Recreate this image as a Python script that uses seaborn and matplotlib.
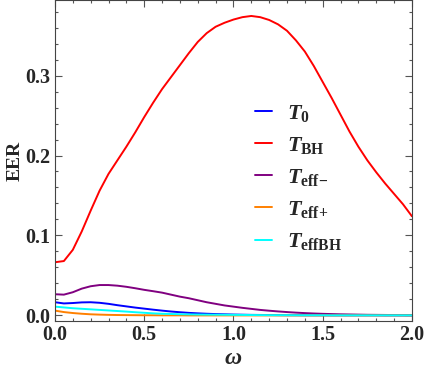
import numpy as np
import pandas as pd
import seaborn as sns
import matplotlib.pyplot as plt

# Valores (paso 0.05 en omega)
omega = [0.0, 0.05, 0.1, 0.15, 0.2, 0.25, 0.3, 0.35, 0.4, 0.45, 0.5, 0.55, 0.6, 0.65, 0.7,
         0.75, 0.8, 0.85, 0.9, 0.95, 1.0, 1.05, 1.1, 1.15, 1.2, 1.25, 1.3, 1.35, 1.4, 1.45,
         1.5, 1.55, 1.6, 1.65, 1.7, 1.75, 1.8, 1.85, 1.9, 1.95, 2.0]
eer_T0 = [0.0165, 0.015, 0.0155, 0.0163, 0.0165, 0.0158, 0.0145, 0.0128, 0.0113, 0.0098, 0.0085,
          0.0072, 0.006, 0.0049, 0.004, 0.0032, 0.0026, 0.0021, 0.0017, 0.0014, 0.0011, 0.0009,
          0.0007, 0.0006, 0.0005, 0.0004, 0.0003, 0.0003, 0.0002, 0.0002, 0.0002, 0.0001, 0.0001,
          0.0001, 0.0001, 0.0001, 0.0001, 0.0, 0.0, 0.0, 0.0]
eer_TBH = [0.0665, 0.068, 0.082, 0.105, 0.131, 0.156, 0.177, 0.194, 0.211, 0.229, 0.248, 0.266,
           0.283, 0.298, 0.313, 0.328, 0.342, 0.353, 0.361, 0.366, 0.37, 0.373, 0.3745, 0.373,
           0.3695, 0.364, 0.356, 0.344, 0.33, 0.312, 0.292, 0.272, 0.251, 0.23, 0.211, 0.194,
           0.179, 0.165, 0.152, 0.139, 0.124]
eer_Teff_m = [0.0265, 0.026, 0.029, 0.0335, 0.0365, 0.038, 0.038, 0.0372, 0.0358, 0.034, 0.032,
              0.0303, 0.0285, 0.026, 0.0235, 0.0215, 0.019, 0.0165, 0.0145, 0.0125, 0.011, 0.0095,
              0.0082, 0.0069, 0.0059, 0.005, 0.0042, 0.0035, 0.0029, 0.0024, 0.002, 0.0017, 0.0014,
              0.0012, 0.001, 0.0008, 0.0007, 0.0006, 0.0005, 0.0004, 0.0003]
eer_Teff_p = [0.006, 0.0042, 0.003, 0.0021, 0.0014, 0.001, 0.0007, 0.0005, 0.0004, 0.0003, 0.0002,
              0.0002, 0.0001, 0.0001, 0.0001, 0.0, 0.0, 0.0, 0.0, 0.0, 0.0, 0.0, 0.0, 0.0, 0.0,
              0.0, 0.0, 0.0, 0.0, 0.0, 0.0, 0.0, 0.0, 0.0, 0.0, 0.0, 0.0, 0.0, 0.0, 0.0, 0.0]
eer_TeffBH = [0.011, 0.01, 0.009, 0.0083, 0.0076, 0.0069, 0.0062, 0.0055, 0.0048, 0.004, 0.0033,
              0.0026, 0.0021, 0.0018, 0.0015, 0.0013, 0.0011, 0.001, 0.0009, 0.0008, 0.0007, 0.0006,
              0.0005, 0.0004, 0.0003, 0.0003, 0.0003, 0.0002, 0.0002, 0.0002, 0.0002, 0.0001, 0.0001,
              0.0001, 0.0001, 0.0001, 0.0001, 0.0001, 0.0001, 0.0001, 0.0001]

etiquetas = [r"$T_{0}$", r"$T_{\mathrm{BH}}$", r"$T_{\mathrm{eff}\!-}$", r"$T_{\mathrm{eff}\!+}$", r"$T_{\mathrm{effBH}}$"]
colores = ["#0000ff", "#ff0000", "#800080", "#ff8000", "#00ffff"]
series = [eer_T0, eer_TBH, eer_Teff_m, eer_Teff_p, eer_TeffBH]

df = pd.concat([pd.DataFrame({"omega": omega, "EER": s, "T": lab})
                for s, lab in zip(series, etiquetas)], ignore_index=True)

sns.set_style("ticks")
plt.rcParams["font.family"] = ["Liberation Serif", "DejaVu Serif"]
plt.rcParams["font.weight"] = "bold"
plt.rcParams["mathtext.fontset"] = "custom"
plt.rcParams["mathtext.it"] = "Liberation Serif:bold:italic"
plt.rcParams["mathtext.rm"] = "Liberation Serif:bold"
plt.rcParams["mathtext.bf"] = "Liberation Serif:bold"

fig = plt.figure(figsize=(4.26, 3.75), dpi=100)
ax = fig.add_axes([0.129, 0.145, 0.838, 0.854])

sns.lineplot(data=df, x="omega", y="EER", hue="T", palette=colores, linewidth=1.4, ax=ax)

ax.set_xlim(0, 2.0)
ax.set_ylim(-0.0065, 0.394)
ax.set_xticks([0, 0.5, 1.0, 1.5, 2.0])
ax.set_yticks([0.0, 0.1, 0.2, 0.3])
ax.set_xticks(np.arange(0, 2.01, 0.1), minor=True)
ax.set_yticks(np.arange(0, 0.39, 0.02), minor=True)
ax.tick_params(which="both", direction="in", top=True, right=True, labelsize=14.5, width=0.8, color="#555555")
ax.tick_params(which="major", length=5)
ax.tick_params(which="minor", length=2.5)
for lab in ax.get_xticklabels() + ax.get_yticklabels():
    lab.set_fontweight("bold")
for sp in ax.spines.values():
    sp.set_color("#444444")

ax.set_xlabel(r"$\omega$", fontsize=17, labelpad=2)
ax.set_ylabel("EER", fontsize=14, fontweight="bold", labelpad=1)

ax.legend(frameon=False, loc="upper left", bbox_to_anchor=(0.56, 0.68), fontsize=16,
          handlelength=0.75, labelspacing=0.5, handletextpad=0.7, borderpad=0, borderaxespad=0)

fig.savefig("out.png", dpi=100)
